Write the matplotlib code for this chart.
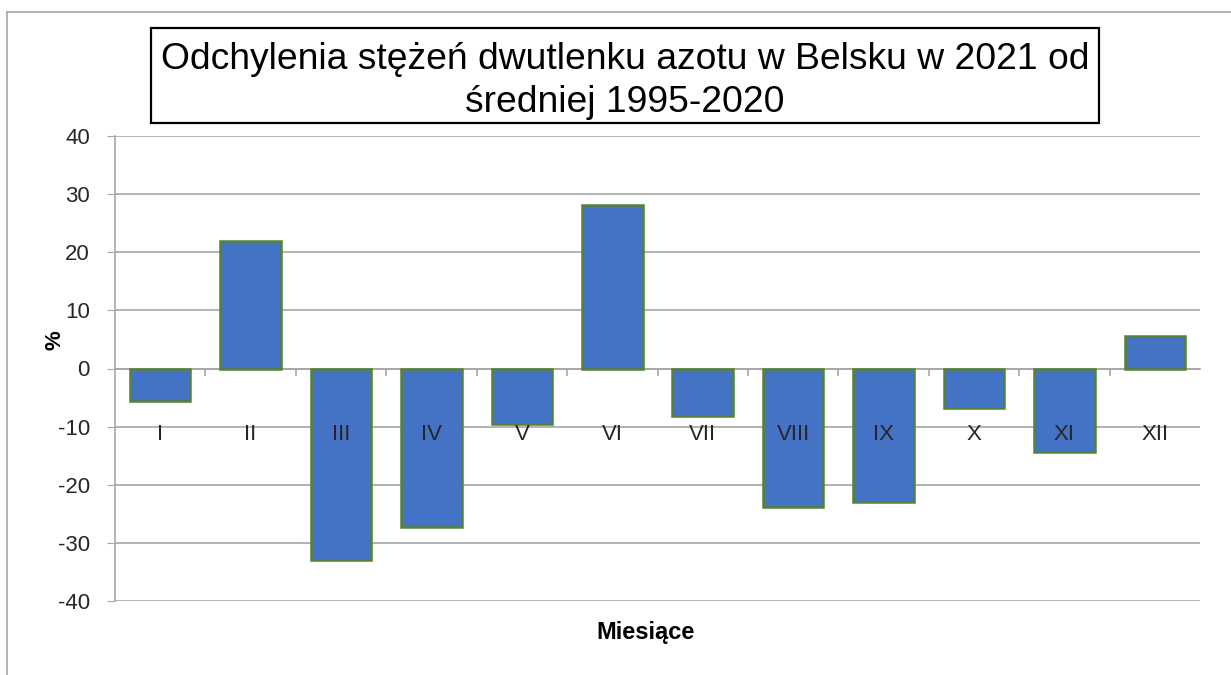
import matplotlib.pyplot as plt
import matplotlib.patches as patches
from matplotlib.lines import Line2D

months = ["I", "II", "III", "IV", "V", "VI", "VII", "VIII", "IX", "X", "XI", "XII"]
values = [-5.6, 21.9, -33.0, -27.3, -9.5, 28.1, -8.2, -23.8, -23.0, -6.8, -14.4, 5.6]
yticks = [-40, -30, -20, -10, 0, 10, 20, 30, 40]

plt.rcParams['font.family'] = ['Liberation Sans', 'DejaVu Sans']
plt.rcParams['axes.unicode_minus'] = False

W, H = 1231, 675
fig = plt.figure(figsize=(W / 100, H / 100), dpi=100)
ax = fig.add_axes([115 / W, 1 - 601 / H, (1200 - 115) / W, (601 - 136) / H])

x = list(range(len(months)))
ax.bar(x, values, width=0.67, color="#4472C4", edgecolor="#548235", linewidth=1.8, zorder=3)

ax.set_xlim(-0.5, len(months) - 0.5)
ax.set_ylim(-40, 40)
ax.set_yticks(yticks)
ax.yaxis.grid(True, color="#A6A6A6", linewidth=1.2, zorder=0)
ax.tick_params(axis='y', length=6, color="#A6A6A6", labelsize=16, pad=12, labelcolor="#262626")

# category axis at zero
ax.spines['bottom'].set_position(('data', 0))
ax.spines['bottom'].set_color("#A6A6A6")
ax.spines['bottom'].set_linewidth(1.2)
ax.spines['bottom'].set_zorder(2)
ax.set_xticks([i + 0.5 for i in range(len(months) - 1)])
ax.set_xticklabels([])
ax.tick_params(axis='x', length=5, color="#A6A6A6", width=1.2)
for i, m in enumerate(months):
    ax.text(i, -11.3, m, ha='center', va='center', fontsize=16, color="#262626", zorder=4)

ax.spines['left'].set_color("#A6A6A6")
ax.spines['left'].set_linewidth(1.2)
ax.spines['top'].set_visible(False)
ax.spines['right'].set_visible(False)

fig.text(55 / W, 1 - 340 / H, "%", ha='center', va='center', fontsize=16, fontweight='bold', rotation=90)
fig.text(646 / W, 1 - 632 / H, "Miesiące", ha='center', va='center', fontsize=17, fontweight='bold')

# title box
fig.patches.append(patches.Rectangle((151 / W, 1 - 123 / H), (1099 - 151) / W, (123 - 28) / H,
                                     transform=fig.transFigure, fill=False, edgecolor="black",
                                     linewidth=1.6))
fig.text(625 / W, 1 - 81 / H, "Odchylenia stężeń dwutlenku azotu w Belsku w 2021 od\nśredniej 1995-2020",
         ha='center', va='center', fontsize=26.8, linespacing=1.31)

# outer frame
fig.lines.append(Line2D([7 / W, 7 / W], [0, 1 - 12 / H], transform=fig.transFigure, color="#A6A6A6", linewidth=1.2))
fig.lines.append(Line2D([7 / W, 1], [1 - 12 / H, 1 - 12 / H], transform=fig.transFigure, color="#A6A6A6", linewidth=1.2))

fig.savefig("out.png", dpi=100)
